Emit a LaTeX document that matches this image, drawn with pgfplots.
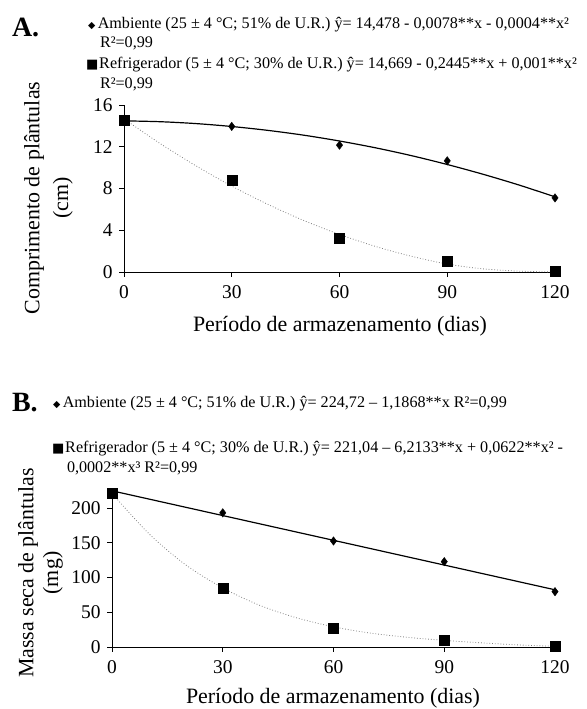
\documentclass[border=0pt]{standalone}
\usepackage{pgfplots}
\pgfplotsset{compat=1.18}
\usepackage{fontspec}
\setmainfont{Liberation Serif}
\newfontfamily\symfont{DejaVu Sans}
\newcommand{\dia}{{\symfont\fontsize{9.5}{9.5}\selectfont ◆}}
\newcommand{\sq}{{\symfont\fontsize{13}{13}\selectfont ■}}
\begin{document}
\begin{tikzpicture}
\path[use as bounding box] (0,0) rectangle (587bp,709bp);
\pgfplotsset{
  myaxis/.style={
    scale only axis, axis x line=bottom, axis y line=left,
    axis line style={-, line width=0.8pt},
    tick align=outside, major tick length=5bp,
    tick style={black, line width=0.8pt},
    xmin=0, xmax=120, ymin=0, xtick={0,30,60,90,120},
    ticklabel style={font=\fontsize{19.5}{22}\selectfont},
    xticklabel style={yshift=-5bp},
    yticklabel style={xshift=-3bp},
    /pgf/number format/assume math mode=true,
    clip=false,
  },
  amb/.style={black, line width=1.2pt, smooth, no markers},
  ref/.style={gray, dotted, line width=0.8pt, smooth, no markers},
  ambm/.style={only marks, mark=diamond*, mark size=4.2bp, black},
  refm/.style={only marks, mark=square*, mark size=5bp, black},
}
% ---------------- Panel A ----------------
\begin{axis}[myaxis, at={(124bp,437bp)}, anchor=origin,
  width=431bp, height=167bp, ymax=16, ytick={0,4,8,12,16}]
\addplot[amb] coordinates {(0,14.48) (10,14.40) (20,14.22) (30,13.94) (40,13.57) (50,13.11) (60,12.55) (70,11.90) (80,11.15) (90,10.30) (100,9.36) (110,8.33) (120,7.2)};
\addplot[ref] coordinates {(0,14.67) (10,12.32) (20,10.18) (30,8.23) (40,6.49) (50,4.94) (60,3.60) (70,2.45) (80,1.51) (90,0.76) (100,0.30) (110,0.08) (120,0.0)};
\addplot[ambm] coordinates {(0,14.5) (30,13.95) (60,12.15) (90,10.65) (120,7.1)};
\addplot[refm] coordinates {(0,14.5) (30,8.8) (60,3.27) (90,1.08) (120,0.05)};
\end{axis}
% ---------------- Panel B ----------------
\begin{axis}[myaxis, at={(112bp,62bp)}, anchor=origin,
  width=443bp, height=154.3bp, ymax=222, ytick={0,50,100,150,200}]
\addplot[amb] coordinates {(0,224.72) (120,82.3)};
\addplot[ref] coordinates {(0,221) (10,163) (20,118) (30,85) (40,60) (50,42) (60,29) (70,20) (80,14) (90,9.5) (100,6) (110,3) (120,1)};
\addplot[ambm] coordinates {(0,221) (30,193) (60,152.5) (90,122.8) (120,79.6)};
\addplot[refm] coordinates {(0,221) (30,85) (60,27) (90,10) (120,1)};
\end{axis}
% ---------------- texts ----------------
\begin{scope}[every node/.style={inner sep=0pt, outer sep=0pt}]
\node[anchor=base west, font=\fontsize{28}{30}\selectfont\bfseries] at (12bp,672bp) {A.};
\node[anchor=base west, font=\fontsize{16.2}{18}\selectfont] at (88bp,680.5bp) {\dia\hspace{2.5bp}Ambiente (25 ± 4 °C; 51\% de U.R.) ŷ= 14,478 - 0,0078**x - 0,0004**x²};
\node[anchor=base west, font=\fontsize{16.2}{18}\selectfont] at (100bp,661.5bp) {R²=0,99};
\node[anchor=base west, font=\fontsize{16.2}{18}\selectfont] at (86bp,640.5bp) {\sq\hspace{1bp}Refrigerador (5 ± 4 °C; 30\% de U.R.) ŷ= 14,669 - 0,2445**x + 0,001**x²};
\node[anchor=base west, font=\fontsize{16.2}{18}\selectfont] at (100bp,620.5bp) {R²=0,99};
\node[font=\fontsize{22}{25}\selectfont] at (340bp,383bp) {Período de armazenamento (dias)};
\node[rotate=90, align=center, font=\fontsize{22}{29}\selectfont] at (48.5bp,511bp) {Comprimento de plântulas\\(cm)};
\node[anchor=base west, font=\fontsize{28}{30}\selectfont\bfseries] at (12bp,297bp) {B.};
\node[anchor=base west, font=\fontsize{16.2}{18}\selectfont] at (53bp,301.5bp) {\dia\hspace{2.5bp}Ambiente (25 ± 4 °C; 51\% de U.R.) ŷ= 224,72 – 1,1868**x R²=0,99};
\node[anchor=base west, font=\fontsize{16.2}{18}\selectfont] at (52bp,256.5bp) {\sq\hspace{1bp}Refrigerador (5 ± 4 °C; 30\% de U.R.) ŷ= 221,04 – 6,2133**x + 0,0622**x² -};
\node[anchor=base west, font=\fontsize{16.2}{18}\selectfont] at (67bp,236.5bp) {0,0002**x³ R²=0,99};
\node[font=\fontsize{22}{25}\selectfont] at (333bp,11bp) {Período de armazenamento (dias)};
\node[rotate=90, align=center, font=\fontsize{22}{25}\selectfont] at (40.5bp,136bp) {Massa seca de plântulas\\(mg)};
\end{scope}
\end{tikzpicture}
\end{document}
